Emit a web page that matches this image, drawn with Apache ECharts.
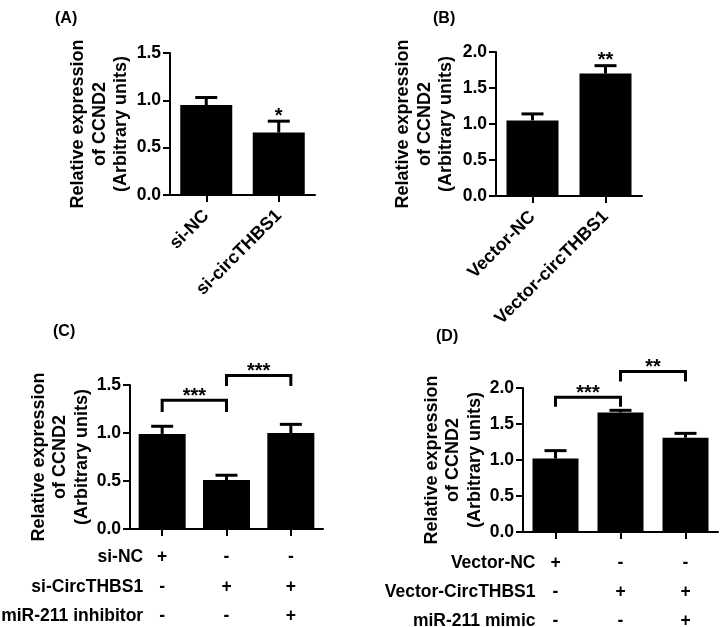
<!DOCTYPE html>
<html><head><meta charset="utf-8">
<script src="https://cdn.jsdelivr.net/npm/echarts@6/dist/echarts.min.js"></script>
<style>html,body{margin:0;padding:0;background:#fff}#c{width:720px;height:627px}</style>
</head><body><div id="c"></div>
<script>
const FONT = 'Liberation Sans, Arial, sans-serif';
const yTitle = 'Relative expression\nof CCND2\n(Arbitrary units)';

// Panel A
const catsA = ['si-NC', 'si-circTHBS1'];
const meanA = [0.95, 0.66];
const semA = [0.08, 0.12];
const sigA = ['', '*'];
const yMaxA = 1.5;

// Panel B
const catsB = ['Vector-NC', 'Vector-circTHBS1'];
const meanB = [1.05, 1.70];
const semB = [0.09, 0.11];
const sigB = ['', '**'];
const yMaxB = 2.0;

// Panel C
const catsC = ['g1', 'g2', 'g3'];
const meanC = [0.99, 0.51, 1.00];
const semC = [0.08, 0.05, 0.09];
const rowsC = ['si-NC', 'si-CircTHBS1', 'miR-211 inhibitor'];
const signsC = [['+', '-', '-'], ['-', '+', '+'], ['-', '-', '+']];
const brFromC = [0, 1];
const brToC = [1, 2];
const brTopC = [1.34, 1.60];
const brLegC = [1.22, 1.49];
const brSigC = ['***', '***'];
const yMaxC = 1.5;

// Panel D
const catsD = ['g1', 'g2', 'g3'];
const meanD = [1.02, 1.66, 1.31];
const semD = [0.11, 0.03, 0.06];
const rowsD = ['Vector-NC', 'Vector-CircTHBS1', 'miR-211 mimic'];
const signsD = [['+', '-', '-'], ['-', '+', '+'], ['-', '-', '+']];
const brFromD = [0, 1];
const brToD = [1, 2];
const brTopD = [1.87, 2.23];
const brLegD = [1.74, 2.09];
const brSigD = ['***', '**'];
const yMaxD = 2.0;

const yStep = 0.5;

const chart = echarts.init(document.getElementById('c'), null, {renderer: 'canvas'});

function txt(size) { return {fontFamily: FONT, fontWeight: 'bold', fontSize: size, color: '#000'}; }

function yAxisCfg(idx, max, gap) {
  return {
    gridIndex: idx, type: 'value', min: 0, max: max, interval: yStep,
    name: yTitle, nameLocation: 'middle', nameRotate: 90, nameGap: gap,
    nameTextStyle: Object.assign(txt(18), {lineHeight: 21.5}),
    axisLine: {show: true, lineStyle: {color: '#000', width: 2}},
    axisTick: {show: true, length: 7, lineStyle: {color: '#000', width: 2}},
    axisLabel: Object.assign(txt(17.5), {margin: 9, formatter: v => v.toFixed(1)}),
    splitLine: {show: false}
  };
}
function xAxisCfg(idx, cats, showLabels) {
  return {
    gridIndex: idx, type: 'category', data: cats,
    axisLine: {show: true, lineStyle: {color: '#000', width: 2}},
    axisTick: {show: true, alignWithLabel: true, length: 7, lineStyle: {color: '#000', width: 2}},
    axisLabel: showLabels ? Object.assign(txt(18), {rotate: 45, margin: 18, interval: 0}) : {show: false}
  };
}
function barSeries(idx, data, w) {
  return {type: 'bar', xAxisIndex: idx, yAxisIndex: idx, data: data, barWidth: w,
    itemStyle: {color: '#000'}, silent: true, animation: false};
}
function errSeries(idx, mean, sem, sig) {
  return {
    type: 'custom', xAxisIndex: idx, yAxisIndex: idx, z: 5, animation: false, silent: true,
    encode: {x: 0, y: [1, 2]},
    data: mean.map((m, i) => [i, m, +(m + sem[i]).toFixed(3)]),
    renderItem: function (params, api) {
      const b = api.coord([api.value(0), api.value(1)]);
      const t = api.coord([api.value(0), api.value(2)]);
      const half = 11;
      const ch = [
        {type: 'line', shape: {x1: b[0], y1: b[1], x2: t[0], y2: t[1]}, style: {stroke: '#000', lineWidth: 3}},
        {type: 'line', shape: {x1: t[0] - half, y1: t[1], x2: t[0] + half, y2: t[1]}, style: {stroke: '#000', lineWidth: 3}}
      ];
      const s = sig[params.dataIndex];
      if (s) ch.push({type: 'text', style: {text: s, x: t[0], y: t[1] - 5, align: 'center', verticalAlign: 'middle',
        fontFamily: FONT, fontWeight: 'bold', fontSize: 20, fill: '#000'}});
      return {type: 'group', children: ch};
    }
  };
}
function bracketSeries(idx, from, to, top, leg, sig) {
  return {
    type: 'custom', xAxisIndex: idx, yAxisIndex: idx, z: 5, animation: false, silent: true,
    encode: {x: [0, 1], y: [2, 3]},
    data: from.map((f, i) => [f, to[i], top[i], leg[i]]),
    renderItem: function (params, api) {
      const a = api.coord([api.value(0), api.value(2)]);
      const b = api.coord([api.value(1), api.value(2)]);
      const ly = api.coord([api.value(0), api.value(3)])[1];
      return {type: 'group', children: [
        {type: 'polyline', shape: {points: [[a[0], ly], [a[0], a[1]], [b[0], b[1]], [b[0], ly]]},
          style: {stroke: '#000', lineWidth: 3, fill: null}},
        {type: 'text', style: {text: sig[params.dataIndex], x: (a[0] + b[0]) / 2, y: a[1] - 4,
          align: 'center', verticalAlign: 'middle', fontFamily: FONT, fontWeight: 'bold', fontSize: 20, fill: '#000'}}
      ]};
    }
  };
}
function tableSeries(idx, rows, signs, rowOff, rowGap, labelGap) {
  const items = [];
  rows.forEach((r, ri) => {
    items.push({c: 0, r: ri, text: r, label: true});
    signs[ri].forEach((s, ci) => items.push({c: ci, r: ri, text: s, label: false}));
  });
  return {
    type: 'custom', xAxisIndex: idx, yAxisIndex: idx, z: 5, animation: false, silent: true,
    encode: {x: 0, y: 1},
    data: items.map(it => [it.c, it.r]),
    renderItem: function (params, api) {
      const it = items[params.dataIndex];
      const base = api.coord([api.value(0), 0]);
      const y = base[1] + rowOff + it.r * rowGap;
      return {type: 'text', style: {text: it.text, x: it.label ? base[0] - labelGap : base[0], y: y,
        align: it.label ? 'right' : 'center', verticalAlign: 'middle',
        fontFamily: FONT, fontWeight: 'bold', fontSize: 17.5, fill: '#000'}};
    }
  };
}

const panelTitle = (t, x, y) => ({text: t, left: x, top: y, padding: 0,
  textStyle: {fontFamily: FONT, fontWeight: 'bold', fontSize: 16, color: '#000'}});

chart.setOption({
  animation: false,
  backgroundColor: '#fff',
  title: [panelTitle('(A)', 55, 11), panelTitle('(B)', 433, 11), panelTitle('(C)', 53, 324), panelTitle('(D)', 436, 329)],
  grid: [
    {left: 170, top: 53, width: 145, height: 142},
    {left: 496, top: 52, width: 146, height: 144},
    {left: 130, top: 385, width: 193, height: 144},
    {left: 523, top: 388, width: 195, height: 144}
  ],
  xAxis: [xAxisCfg(0, catsA, true), xAxisCfg(1, catsB, true), xAxisCfg(2, catsC, false), xAxisCfg(3, catsD, false)],
  yAxis: [yAxisCfg(0, yMaxA, 38), yAxisCfg(1, yMaxB, 39), yAxisCfg(2, yMaxC, 37), yAxisCfg(3, yMaxD, 33)],
  series: [
    barSeries(0, meanA, 52), errSeries(0, meanA, semA, sigA),
    barSeries(1, meanB, 52), errSeries(1, meanB, semB, sigB),
    barSeries(2, meanC, 47), errSeries(2, meanC, semC, ['', '', '']),
    bracketSeries(2, brFromC, brToC, brTopC, brLegC, brSigC), tableSeries(2, rowsC, signsC, 28.5, 29.3, 19),
    barSeries(3, meanD, 46), errSeries(3, meanD, semD, ['', '', '']),
    bracketSeries(3, brFromD, brToD, brTopD, brLegD, brSigD), tableSeries(3, rowsD, signsD, 31, 29, 20)
  ]
});
</script></body></html>
